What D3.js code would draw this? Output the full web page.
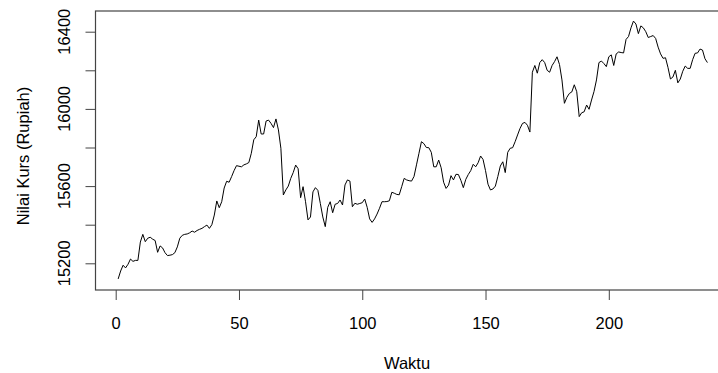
<!DOCTYPE html>
<html>
<head>
<meta charset="utf-8">
<script src="https://cdn.jsdelivr.net/npm/d3@7"></script>
<style>
  body { margin: 0; background: #fff; }
  text { font-family: "Liberation Sans", Arial, sans-serif; fill: #000; }
</style>
</head>
<body>
<div id="chart"></div>
<script>
// valeurs (t = 1..240)
const kurs = [
  15119, 15160, 15190, 15176, 15195, 15222, 15210, 15215, 15215, 15310,
  15350, 15312, 15330, 15335, 15325, 15318, 15257, 15290, 15280, 15255,
  15240, 15242, 15245, 15255, 15285, 15330, 15345, 15350, 15352, 15358,
  15367, 15361, 15370, 15376, 15381, 15390, 15398, 15381, 15400, 15450,
  15523, 15488, 15519, 15590, 15625, 15620, 15649, 15680, 15706, 15703,
  15700, 15710, 15715, 15722, 15770, 15840, 15856, 15942, 15870, 15870,
  15937, 15942, 15925, 15903, 15948, 15891, 15796, 15554, 15580, 15600,
  15640, 15670, 15709, 15690, 15540, 15597, 15519, 15425, 15440, 15570,
  15592, 15578, 15510, 15440, 15390, 15490, 15519, 15462, 15506, 15510,
  15528, 15502, 15606, 15632, 15626, 15493, 15511, 15506, 15510, 15514,
  15533, 15490, 15430, 15412, 15430, 15455, 15485, 15519, 15519, 15520,
  15524, 15568, 15563, 15557, 15555, 15597, 15640, 15632, 15628, 15626,
  15650, 15710, 15770, 15830, 15820, 15800, 15799, 15775, 15700, 15700,
  15735, 15695, 15620, 15588, 15605, 15654, 15632, 15661, 15660, 15630,
  15592, 15635, 15660, 15680, 15713, 15700, 15721, 15756, 15738, 15680,
  15610, 15580, 15585, 15600, 15650, 15704, 15726, 15670, 15775, 15796,
  15799, 15830, 15865, 15899, 15925, 15930, 15915, 15880, 16190, 16225,
  16185, 16240, 16255, 16240, 16200, 16190, 16225, 16245, 16270, 16230,
  16150, 16029, 16060, 16080, 16088, 16125, 16089, 15960, 15980, 15985,
  16020, 15998, 16046, 16090, 16150, 16240, 16248, 16235, 16219, 16270,
  16280, 16225, 16285, 16295, 16292, 16290, 16360, 16375, 16420, 16455,
  16440, 16390, 16430, 16420, 16400, 16370, 16375, 16380, 16365, 16320,
  16285, 16262, 16265, 16215, 16155, 16165, 16200, 16135, 16155, 16195,
  16222, 16210, 16210, 16255, 16288, 16290, 16310, 16305, 16260, 16240
];
const xTicks = [0, 50, 100, 150, 200];
const yTicks = [15200, 15400, 15600, 15800, 16000, 16200, 16400];
const yLabels = [15200, 15600, 16000, 16400];

const width = 718;
const height = 373;
const fontSize = "16.5px";

const svg = d3.select("#chart")
  .append("svg")
  .attr("width", width)
  .attr("height", height);

// cadre du graphique
const box = { left: 95.5, top: 11, right: 731, bottom: 290 };

// échelles (étendue de 4 % à la manière de R)
const x = d3.scaleLinear()
  .domain([0, 200])
  .range([115.7, 608.8]);

const y = d3.scaleLinear()
  .domain([15200, 16400])
  .range([263.3, 31.7]);

svg.append("clipPath")
  .attr("id", "clip")
  .append("rect")
  .attr("x", box.left)
  .attr("y", box.top)
  .attr("width", box.right - box.left)
  .attr("height", box.bottom - box.top);

// la série
const line = d3.line()
  .x((d, i) => x(i + 1))
  .y(d => y(d));

svg.append("path")
  .datum(kurs)
  .attr("clip-path", "url(#clip)")
  .attr("d", line)
  .attr("fill", "none")
  .attr("stroke", "#000")
  .attr("stroke-width", 1)
  .attr("stroke-linejoin", "round");

// cadre
svg.append("rect")
  .attr("x", box.left)
  .attr("y", box.top)
  .attr("width", box.right - box.left)
  .attr("height", box.bottom - box.top)
  .attr("fill", "none")
  .attr("stroke", "#444")
  .attr("stroke-width", 1.2);

// axe x
const xAxis = svg.append("g")
  .attr("transform", `translate(0, ${box.bottom})`)
  .call(d3.axisBottom(x).tickValues(xTicks).tickSize(10).tickPadding(17));
xAxis.select(".domain").remove();
xAxis.selectAll("line").attr("stroke", "#444");
xAxis.selectAll("text")
  .attr("font-size", fontSize)
  .attr("font-family", "Liberation Sans, Arial, sans-serif");

// axe y
const yAxis = svg.append("g")
  .attr("transform", `translate(${box.left}, 0)`)
  .call(d3.axisLeft(y).tickValues(yTicks).tickSize(10).tickFormat(() => ""));
yAxis.select(".domain").remove();
yAxis.selectAll("line").attr("stroke", "#444");

svg.append("g")
  .selectAll("text")
  .data(yLabels)
  .join("text")
  .attr("transform", d => `translate(70, ${y(d)}) rotate(-90)`)
  .attr("text-anchor", "middle")
  .attr("font-size", fontSize)
  .text(d => d);

// titres des axes
svg.append("text")
  .attr("x", 407)
  .attr("y", 369)
  .attr("text-anchor", "middle")
  .attr("font-size", fontSize)
  .text("Waktu");

svg.append("text")
  .attr("transform", `translate(29, 156) rotate(-90)`)
  .attr("text-anchor", "middle")
  .attr("font-size", fontSize)
  .text("Nilai Kurs (Rupiah)");
</script>
</body>
</html>
